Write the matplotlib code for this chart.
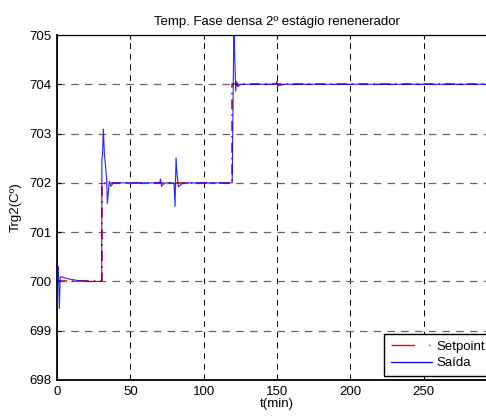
import matplotlib
matplotlib.use("Agg")
import matplotlib.pyplot as plt
from matplotlib.lines import Line2D

plt.rcParams['font.family'] = ['Liberation Sans', 'DejaVu Sans']
plt.rcParams['font.size'] = 9.5

# setpoint (degraus)
t_sp = [0, 30.5, 30.5, 119.5, 119.5, 300]
sp = [700.0, 700.0, 702.0, 702.0, 704.0, 704.0]

# saida do controlador
t_out = [0, 0.9, 1.6, 2.2, 3.0, 4.5, 8, 14, 22, 30.5,
         30.6, 31.0, 31.6, 32.3, 33.9, 34.3, 35.7, 36.8, 38.4, 40.7,
         60, 70.0, 70.6, 71.3, 72.5, 74.0, 79.8, 80.5, 81.2, 81.8,
         82.8, 84.4, 86.0, 119.5, 119.7, 120.7, 121.2, 121.9, 122.5, 123.4,
         125.0, 149.5, 150.0, 150.6, 152.0, 155.0, 300]
y_out = [700.3, 700.3, 699.45, 700.07, 700.1, 700.08, 700.05, 700.02, 700.0, 700.0,
         702.5, 702.55, 703.09, 702.6, 702.06, 701.58, 702.03, 701.93, 702.0, 702.0,
         702.0, 702.0, 702.08, 701.93, 701.97, 702.0, 702.0, 701.52, 702.51, 702.2,
         701.92, 701.96, 702.0, 702.0, 702.5, 705.3, 704.6, 703.86, 704.06, 703.95,
         704.0, 704.0, 704.06, 703.97, 703.98, 704.0, 704.0]

x_ticks = [0, 50, 100, 150, 200, 250]
y_ticks = [698, 699, 700, 701, 702, 703, 704, 705]

fig = plt.figure(figsize=(4.86, 4.16), dpi=100)
ax = fig.add_axes([57 / 486, 36 / 416, 439.8 / 486, 345 / 416])

ax.plot(t_sp, sp, color='red', lw=1.2, dashes=(6, 3, 1, 3))
ax.plot(t_out, y_out, color='blue', lw=0.8, alpha=0.85)

ax.set_xlim(0, 300)
ax.set_ylim(698, 705)
ax.set_xticks(x_ticks)
ax.set_yticks(y_ticks)

for xt in x_ticks[1:]:
    ax.axvline(xt, color='black', lw=0.7, ls=(0, (6, 5)), zorder=0)
for yt in y_ticks[1:-1]:
    ax.axhline(yt, color='#666666', lw=0.9, ls=(0, (6, 5)), zorder=0)

ax.tick_params(direction='in', length=3, top=True, right=True, labelsize=9.5, pad=4)
for side in ['left', 'bottom']:
    ax.spines[side].set_linewidth(1.3)
ax.spines['top'].set_linewidth(0.9)

ax.set_title('Temp. Fase densa 2º estágio renenerador', fontsize=9.5, pad=7)
ax.set_xlabel('t(min)', fontsize=9.5, labelpad=0)
ax.set_ylabel('Trg2(Cº)', fontsize=9.5, labelpad=5)

handles = [Line2D([], [], color='red', lw=1.0, dashes=(17, 10, 1, 10)),
           Line2D([], [], color='blue', lw=0.9)]
leg = ax.legend(handles, ['Setpoint', 'Saída'], loc='lower left',
                bbox_to_anchor=(384 / 486, 40 / 416), bbox_transform=fig.transFigure,
                fontsize=9.5, handlelength=3.1, handletextpad=0.38,
                borderpad=0.5, labelspacing=0.35, fancybox=False, framealpha=1,
                borderaxespad=0)
leg.get_frame().set_edgecolor('black')
leg.get_frame().set_linewidth(1.0)

fig.savefig('out.png', dpi=100)
